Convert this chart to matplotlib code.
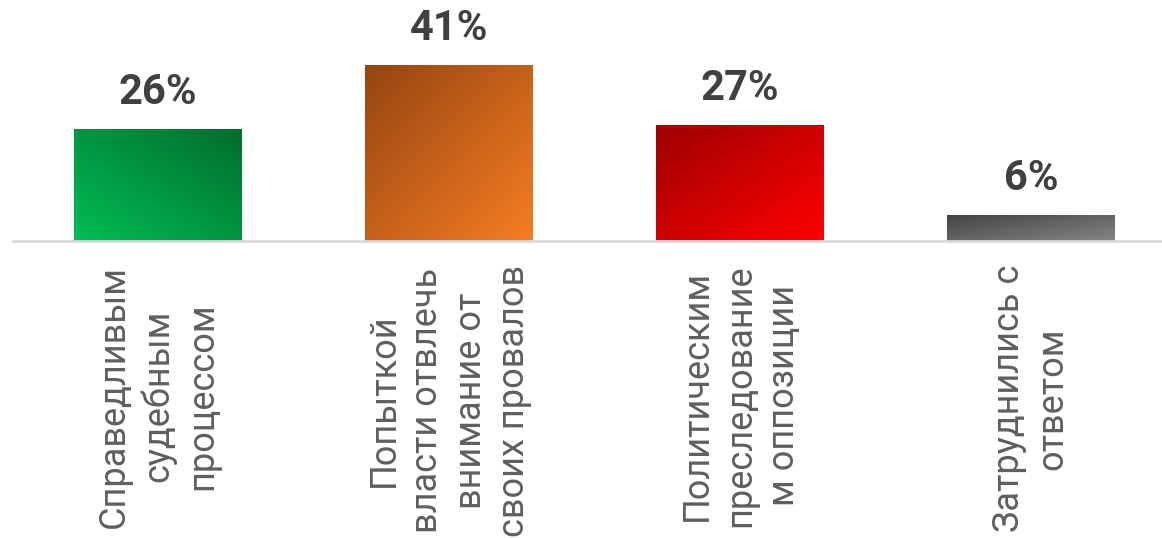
import numpy as np
import matplotlib
matplotlib.use("Agg")
import matplotlib.pyplot as plt
from matplotlib.colors import LinearSegmentedColormap

categories = [
    "Справедливым\nсудебным\nпроцессом",
    "Попыткой\nвласти отвлечь\nвнимание от\nсвоих провалов",
    "Политическим\nпреследование\nм оппозиции",
    "Затруднились с\nответом",
]
values = [26, 41, 27, 6]
value_labels = ["26%", "41%", "27%", "6%"]

# gradient colours: (light corner, dark corner), dark at top
grad_colors = [
    ("#00BD55", "#006E2C"),
    ("#F67D22", "#964511"),
    ("#FF0000", "#9E0000"),
    ("#858585", "#444444"),
]
# direction of dark corner: +1 = top-right, -1 = top-left
dark_side = [1, -1, -1, -1]

plt.rcParams['font.family'] = ['Roboto', 'DejaVu Sans']

W, H = 1162, 538
fig = plt.figure(figsize=(W / 100, H / 100), dpi=100)
px_per_unit = 4.27
base_y = 241
x_left = 158 - 0.5 * 291
ax = fig.add_axes([x_left / W, (H - base_y) / H, 4 * 291 / W, base_y / H])
ax.set_xlim(-0.5, 3.5)
ax.set_ylim(0, base_y / px_per_unit)

bw = 168 / 291
x = np.arange(len(values))
n = 64
for i, (v, (light, dark)) in enumerate(zip(values, grad_colors)):
    cmap = LinearSegmentedColormap.from_list(f"g{i}", [light, dark])
    xx = np.linspace(0, 1, n)
    yy = np.linspace(0, 1, n)
    X, Y = np.meshgrid(xx, yy)
    if dark_side[i] > 0:
        G = (X + Y) / 2
    else:
        G = ((1 - X) + Y) / 2
    x0, x1 = i - bw / 2, i + bw / 2
    ax.imshow(G, cmap=cmap, extent=[x0, x1, 0, v], origin="lower",
              aspect="auto", interpolation="bilinear", zorder=2)
    ax.annotate(value_labels[i], (i, v), xytext=(0, 12), textcoords="offset points",
                ha="center", va="bottom", fontsize=30, fontweight="bold",
                color="#404040")

ax.set_aspect("auto")
ax.set_xlim(-0.5, 3.5)
ax.set_ylim(0, base_y / px_per_unit)
for s in ["top", "right", "left"]:
    ax.spines[s].set_visible(False)
ax.spines["bottom"].set_color("#d9d9d9")
ax.spines["bottom"].set_linewidth(2)
ax.set_yticks([])
ax.set_xticks(x)
ax.set_xticklabels(categories, rotation=90, fontsize=26, color="#5f5f5f",
                   linespacing=1.27, fontweight="normal")
ax.tick_params(axis="x", length=0, pad=17)

fig.savefig("out.png", dpi=100)
